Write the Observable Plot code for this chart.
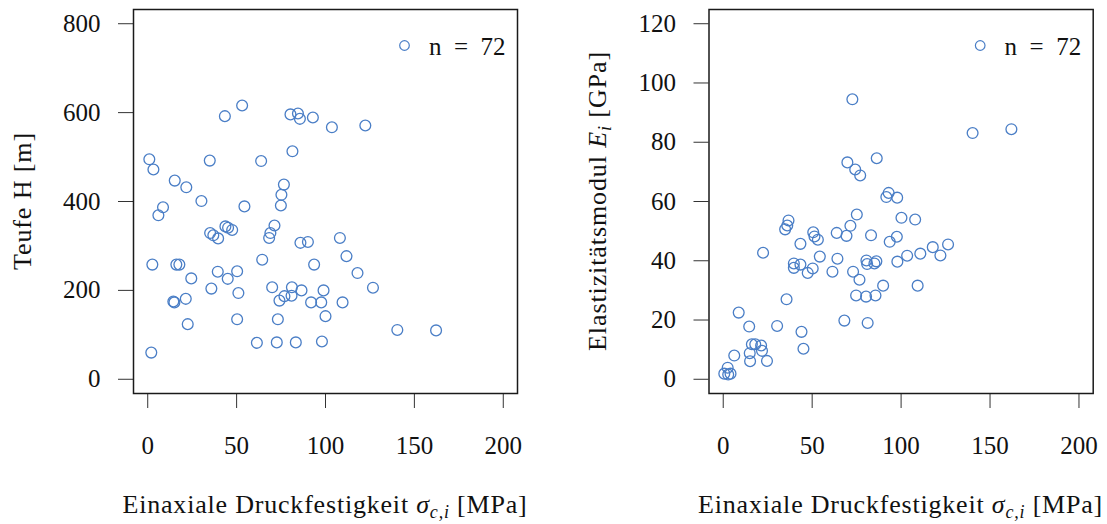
<!DOCTYPE html>
<html>
<head>
<meta charset="utf-8">
<script src="https://cdn.jsdelivr.net/npm/d3@7"></script>
<script src="https://cdn.jsdelivr.net/npm/@observablehq/plot@0.6"></script>
<style>
  html, body { margin: 0; padding: 0; background: white; }
  #wrap { display: flex; width: 1107px; height: 524px; }
  #wrap svg { max-width: none !important; }
</style>
</head>
<body>
<div id="wrap"></div>
<script>
// Panel 1: uniaxial compressive strength [MPa] vs depth [m]
const depthStrength = [53.1, 43.4, 80.3, 84.5, 85.6, 92.9, 103.6, 122.4, 0.9, 3.2, 34.9, 63.8, 81.4, 15.2, 21.7, 30.2, 8.6, 6.0, 54.4, 76.6, 75.2, 74.9, 71.3, 69.0, 68.3, 35.1, 39.6, 43.7, 47.5, 36.9, 45.2, 85.9, 90.1, 2.6, 16.1, 17.8, 64.4, 93.6, 24.5, 39.4, 50.3, 45.0, 35.8, 51.0, 70.0, 81.1, 86.5, 98.9, 76.9, 74.1, 80.9, 91.9, 97.6, 100.0, 14.4, 15.0, 21.4, 22.5, 50.3, 73.2, 61.4, 72.6, 83.3, 98.0, 2.0, 108.1, 111.8, 118.0, 126.7, 109.6, 140.4, 162.2];
const depthValues = [616, 592, 596, 598, 586, 589, 567, 571, 495, 472, 492, 491, 513, 447, 432, 401, 387, 369, 389, 438, 415, 391, 346, 329, 318, 329, 317, 344, 336, 324, 341, 307, 309, 258, 258, 258, 269, 258, 227, 242, 243, 226, 204, 194, 207, 207, 200, 200, 187, 177, 188, 173, 173, 142, 175, 173, 181, 124, 135, 135, 82, 83, 83, 85, 60, 318, 277, 239, 206, 173, 111, 110];

// Panel 2: uniaxial compressive strength [MPa] vs Young's modulus [GPa]
const modStrength = [72.6, 69.8, 74.2, 77.0, 86.3, 93.0, 91.7, 97.8, 36.7, 36.0, 34.8, 50.6, 51.3, 53.2, 43.4, 63.8, 71.5, 75.1, 69.3, 83.1, 93.6, 97.6, 100.2, 107.9, 22.4, 39.7, 39.7, 43.4, 47.5, 50.3, 54.3, 61.4, 64.2, 73.0, 76.6, 80.5, 80.9, 85.0, 86.1, 97.9, 103.4, 110.8, 117.8, 126.4, 122.1, 89.9, 109.3, 74.7, 80.3, 85.6, 68.1, 81.2, 35.6, 8.7, 14.6, 30.3, 44.0, 45.1, 6.2, 16.1, 18.0, 21.3, 14.9, 21.8, 15.1, 24.6, 2.5, 0.6, 2.8, 4.1, 140.2, 162.0];
const modValues = [94.5, 73.2, 70.8, 68.8, 74.6, 62.9, 61.5, 61.3, 53.6, 51.9, 50.6, 49.6, 48.2, 47.1, 45.7, 49.4, 51.8, 55.6, 48.4, 48.6, 46.4, 48.1, 54.5, 53.9, 42.7, 39.1, 37.6, 38.7, 35.9, 37.4, 41.4, 36.3, 40.7, 36.3, 33.6, 40.1, 38.9, 39.1, 39.8, 39.7, 41.7, 42.4, 44.6, 45.5, 41.8, 31.6, 31.6, 28.3, 27.9, 28.3, 19.8, 19.0, 27.0, 22.5, 17.8, 18.0, 16.0, 10.3, 8.0, 11.8, 11.8, 11.4, 8.8, 9.6, 6.1, 6.2, 3.9, 1.9, 1.6, 1.9, 83.1, 84.4];

const xTicks = [0, 50, 100, 150, 200];
const depthTicks = [0, 200, 400, 600, 800];
const modTicks = [0, 20, 40, 60, 80, 100, 120];
const legendText = "n\u2002=\u200272";

const blue = "#4a7ec6";
const font = "'Liberation Serif', 'Times New Roman', serif";

function panel({xs, ys, yTicks, yDomain, width, marginLeft, marginRight}) {
  const idx = d3.range(xs.length);
  return Plot.plot({
    width, height: 524,
    marginLeft, marginRight, marginTop: 9, marginBottom: 131,
    style: {fontFamily: font, fontSize: "25px", color: "#111", background: "white"},
    x: {domain: [-8, 208]},
    y: {domain: yDomain},
    marks: [
      Plot.axisX({ticks: xTicks, tickSize: 15, tickPadding: 28, label: null, tickFormat: d => String(d), stroke: "#333"}),
      Plot.axisY({ticks: yTicks, tickSize: 15, tickPadding: 18, label: null, tickFormat: d => String(d), stroke: "#333"}),
      Plot.dot(idx, {x: i => xs[i], y: i => ys[i], r: 5.4, stroke: blue, strokeWidth: 1.3, fill: "none"}),
      Plot.frame({stroke: "#1a1a1a", strokeWidth: 1.5}),
      Plot.dot([0], {frameAnchor: "top-right", dx: -113, dy: 36, r: 4.8, stroke: blue, strokeWidth: 1.2, fill: "none"}),
      Plot.text([legendText], {text: d => d, frameAnchor: "top-right", dx: -12, dy: 37, textAnchor: "end", lineAnchor: "middle", fontSize: 25})
    ]
  });
}

function xTitle(chart) {
  const r = chart.scale("x").range;
  const t = d3.select(chart).append("text")
    .attr("x", (r[0] + r[1]) / 2).attr("y", 513)
    .attr("text-anchor", "middle").attr("fill", "#111")
    .style("font-family", font).style("font-size", "26px").style("letter-spacing", "0.8px");
  t.append("tspan").text("Einaxiale Druckfestigkeit ");
  t.append("tspan").attr("font-style", "italic").text("σ");
  t.append("tspan").attr("font-style", "italic").attr("font-size", "18px").attr("dy", 5).text("c,i");
  t.append("tspan").attr("dy", -5).text(" [MPa]");
}

function yTitle(chart, xPos, parts) {
  const r = chart.scale("y").range;
  const t = d3.select(chart).append("text")
    .attr("transform", `translate(${xPos},${(r[0] + r[1]) / 2}) rotate(-90)`)
    .attr("text-anchor", "middle").attr("fill", "#111")
    .style("font-family", font).style("font-size", "26px").style("letter-spacing", "0.9px");
  for (const p of parts) {
    const s = t.append("tspan").text(p.text);
    if (p.italic) s.attr("font-style", "italic");
    if (p.size) s.attr("font-size", p.size);
    if (p.dy) s.attr("dy", p.dy);
  }
}

const left = panel({xs: depthStrength, ys: depthValues, yTicks: depthTicks, yDomain: [-32, 832], width: 553, marginLeft: 133, marginRight: 36});
xTitle(left);
yTitle(left, 31, [{text: "Teufe H [m]"}]);

const right = panel({xs: modStrength, ys: modValues, yTicks: modTicks, yDomain: [-4.8, 124.8], width: 554, marginLeft: 155.5, marginRight: 14.3});
xTitle(right);
yTitle(right, 53, [
  {text: "Elastizitätsmodul "},
  {text: "E", italic: true},
  {text: "i", italic: true, size: "18px", dy: 5},
  {text: " [GPa]", dy: -5}
]);

const wrap = document.getElementById("wrap");
wrap.appendChild(left);
wrap.appendChild(right);
</script>
</body>
</html>
